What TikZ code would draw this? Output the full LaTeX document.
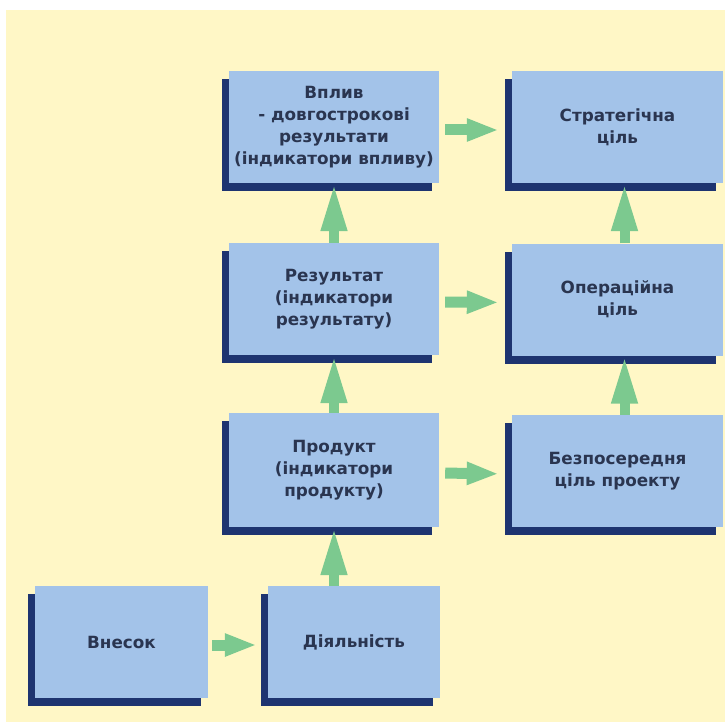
\documentclass[tikz,border=0pt]{standalone}
\usepackage{fontspec}
\setmainfont{DejaVu Sans}
\usetikzlibrary{arrows.meta,shadows}
\definecolor{bg}{HTML}{FFF7C6}
\definecolor{boxfill}{HTML}{A3C3E9}
\definecolor{boxdark}{HTML}{1E3470}
\definecolor{arrowgreen}{HTML}{7CC98F}
\definecolor{txt}{HTML}{2A3550}
\begin{document}
\begin{tikzpicture}[x=1pt,y=-1pt,
  box/.style={fill=boxfill, draw=none, inner sep=0pt, align=center,
    font=\bfseries\fontsize{16.8}{22}\selectfont, text=txt,
    minimum height=112pt,
    copy shadow={shadow xshift=-7pt, shadow yshift=-8pt, fill=boxdark, draw=none}},
  harrow/.style={draw=arrowgreen, line width=11pt,
    -{Triangle[width=21pt,length=32pt]}, shorten <=6pt, shorten >=13pt},
  varrow/.style={draw=arrowgreen, line width=10pt,
    -{Triangle[width=24pt,length=48pt]}}]
\useasboundingbox (0,0) rectangle (725,727);
\fill[bg] (6,10) rectangle (725,722);

\node[box, minimum width=210pt] (vplyv) at (334,127) {Вплив\\- довгострокові\\результати\\(індикатори впливу)};
\node[box, minimum width=211pt] (strat) at (617.5,127) {Стратегічна\\ціль};
\node[box, minimum width=210pt] (rez) at (334,299) {Результат\\(індикатори\\результату)};
\node[box, minimum width=211pt] (oper) at (617.5,299.5) {Операційна\\ціль};
\node[box, minimum width=210pt, minimum height=114pt] (prod) at (334,470) {Продукт\\(індикатори\\продукту)};
\node[box, minimum width=211pt] (bezp) at (617.5,471) {Безпосередня\\ціль проекту};
\node[box, minimum width=173pt] (vnesok) at (121.5,642) {Внесок};
\node[box, minimum width=172pt] (diyal) at (354,642) {Діяльність};

\draw[harrow] ([yshift=-3pt]vplyv.east) -- ([yshift=-3pt]strat.west);
\draw[harrow] ([yshift=-3pt]rez.east) -- ([yshift=-3pt]oper.west);
\draw[harrow] ([yshift=-3pt]prod.east) -- ([yshift=-3pt]bezp.west);
\draw[harrow, shorten <=4pt, shorten >=11pt] ([yshift=-3pt]vnesok.east) -- ([yshift=-3pt]diyal.west);

\draw[varrow] (rez.north) -- (vplyv.south);
\draw[varrow] (prod.north) -- (rez.south);
\draw[varrow] (prod.south |- diyal.north) -- (prod.south);
\draw[varrow] ([xshift=7pt]bezp.north) -- ([xshift=7pt]oper.south);
\draw[varrow] ([xshift=7pt]oper.north) -- ([xshift=7pt]strat.south);
\end{tikzpicture}
\end{document}
